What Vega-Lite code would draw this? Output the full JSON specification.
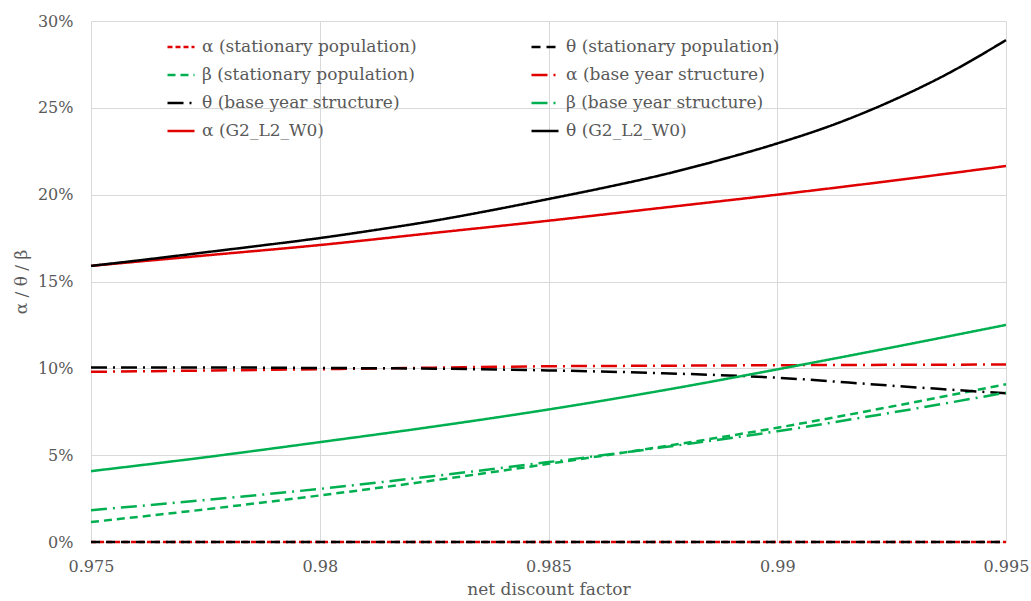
{
  "$schema": "https://vega.github.io/schema/vega-lite/v6.json",
  "width": 915,
  "height": 521,
  "autosize": {"type": "none"},
  "padding": {"left": 91, "top": 21, "right": 25, "bottom": 59},
  "background": "white",
  "config": {
    "view": {"stroke": null},
    "font": "DejaVu Serif",
    "axis": {"labelFont": "DejaVu Serif", "titleFont": "DejaVu Serif", "labelColor": "#595959", "titleColor": "#595959", "labelFontSize": 16, "titleFontSize": 17, "titleFontWeight": "normal", "gridColor": "#d9d9d9", "gridWidth": 1, "domain": false, "ticks": false}
  },
  "data": {"values": [
    {"x": 0.975, "s": "α (stationary population)", "v": 0},
    {"x": 0.995, "s": "α (stationary population)", "v": 0},
    {"x": 0.975, "s": "θ (stationary population)", "v": 0},
    {"x": 0.995, "s": "θ (stationary population)", "v": 0},
    {"x": 0.975, "s": "β (stationary population)", "v": 1.15},
    {"x": 0.9775, "s": "β (stationary population)", "v": 1.88},
    {"x": 0.98, "s": "β (stationary population)", "v": 2.68},
    {"x": 0.9825, "s": "β (stationary population)", "v": 3.55},
    {"x": 0.985, "s": "β (stationary population)", "v": 4.5},
    {"x": 0.9875, "s": "β (stationary population)", "v": 5.5},
    {"x": 0.99, "s": "β (stationary population)", "v": 6.58},
    {"x": 0.9925, "s": "β (stationary population)", "v": 7.8},
    {"x": 0.995, "s": "β (stationary population)", "v": 9.08},
    {"x": 0.975, "s": "α (base year structure)", "v": 9.8},
    {"x": 0.9775, "s": "α (base year structure)", "v": 9.87},
    {"x": 0.98, "s": "α (base year structure)", "v": 9.95},
    {"x": 0.9825, "s": "α (base year structure)", "v": 10.04},
    {"x": 0.985, "s": "α (base year structure)", "v": 10.12},
    {"x": 0.9875, "s": "α (base year structure)", "v": 10.15},
    {"x": 0.99, "s": "α (base year structure)", "v": 10.18},
    {"x": 0.9925, "s": "α (base year structure)", "v": 10.2},
    {"x": 0.995, "s": "α (base year structure)", "v": 10.22},
    {"x": 0.975, "s": "θ (base year structure)", "v": 10.05},
    {"x": 0.9775, "s": "θ (base year structure)", "v": 10.05},
    {"x": 0.98, "s": "θ (base year structure)", "v": 10.02},
    {"x": 0.9825, "s": "θ (base year structure)", "v": 9.98},
    {"x": 0.985, "s": "θ (base year structure)", "v": 9.88},
    {"x": 0.9875, "s": "θ (base year structure)", "v": 9.72},
    {"x": 0.99, "s": "θ (base year structure)", "v": 9.46},
    {"x": 0.9925, "s": "θ (base year structure)", "v": 9.0},
    {"x": 0.995, "s": "θ (base year structure)", "v": 8.56},
    {"x": 0.975, "s": "β (base year structure)", "v": 1.83},
    {"x": 0.9775, "s": "β (base year structure)", "v": 2.42},
    {"x": 0.98, "s": "β (base year structure)", "v": 3.06},
    {"x": 0.9825, "s": "β (base year structure)", "v": 3.8},
    {"x": 0.985, "s": "β (base year structure)", "v": 4.6},
    {"x": 0.9875, "s": "β (base year structure)", "v": 5.45},
    {"x": 0.99, "s": "β (base year structure)", "v": 6.38},
    {"x": 0.9925, "s": "β (base year structure)", "v": 7.45},
    {"x": 0.995, "s": "β (base year structure)", "v": 8.6},
    {"x": 0.975, "s": "β (G2_L2_W0)", "v": 4.08},
    {"x": 0.9775, "s": "β (G2_L2_W0)", "v": 4.88},
    {"x": 0.98, "s": "β (G2_L2_W0)", "v": 5.75},
    {"x": 0.9825, "s": "β (G2_L2_W0)", "v": 6.65},
    {"x": 0.985, "s": "β (G2_L2_W0)", "v": 7.63},
    {"x": 0.9875, "s": "β (G2_L2_W0)", "v": 8.73},
    {"x": 0.99, "s": "β (G2_L2_W0)", "v": 9.94},
    {"x": 0.9925, "s": "β (G2_L2_W0)", "v": 11.2},
    {"x": 0.995, "s": "β (G2_L2_W0)", "v": 12.5},
    {"x": 0.975, "s": "α (G2_L2_W0)", "v": 15.9},
    {"x": 0.9775, "s": "α (G2_L2_W0)", "v": 16.5},
    {"x": 0.98, "s": "α (G2_L2_W0)", "v": 17.1},
    {"x": 0.9825, "s": "α (G2_L2_W0)", "v": 17.8},
    {"x": 0.985, "s": "α (G2_L2_W0)", "v": 18.5},
    {"x": 0.9875, "s": "α (G2_L2_W0)", "v": 19.25},
    {"x": 0.99, "s": "α (G2_L2_W0)", "v": 20.0},
    {"x": 0.9925, "s": "α (G2_L2_W0)", "v": 20.8},
    {"x": 0.995, "s": "α (G2_L2_W0)", "v": 21.65},
    {"x": 0.975, "s": "θ (G2_L2_W0)", "v": 15.9},
    {"x": 0.97625, "s": "θ (G2_L2_W0)", "v": 16.28},
    {"x": 0.9775, "s": "θ (G2_L2_W0)", "v": 16.68},
    {"x": 0.97875, "s": "θ (G2_L2_W0)", "v": 17.08},
    {"x": 0.98, "s": "θ (G2_L2_W0)", "v": 17.5},
    {"x": 0.98125, "s": "θ (G2_L2_W0)", "v": 17.98},
    {"x": 0.9825, "s": "θ (G2_L2_W0)", "v": 18.5},
    {"x": 0.98375, "s": "θ (G2_L2_W0)", "v": 19.1},
    {"x": 0.985, "s": "θ (G2_L2_W0)", "v": 19.75},
    {"x": 0.98625, "s": "θ (G2_L2_W0)", "v": 20.42},
    {"x": 0.9875, "s": "θ (G2_L2_W0)", "v": 21.15},
    {"x": 0.98875, "s": "θ (G2_L2_W0)", "v": 22.0},
    {"x": 0.99, "s": "θ (G2_L2_W0)", "v": 22.95},
    {"x": 0.99125, "s": "θ (G2_L2_W0)", "v": 24.05},
    {"x": 0.9925, "s": "θ (G2_L2_W0)", "v": 25.4},
    {"x": 0.99375, "s": "θ (G2_L2_W0)", "v": 27.0},
    {"x": 0.995, "s": "θ (G2_L2_W0)", "v": 28.9}
  ]},
  "mark": {"type": "line", "interpolate": "monotone"},
  "encoding": {
    "x": {"field": "x", "type": "quantitative", "title": "net discount factor",
      "scale": {"domain": [0.975, 0.995], "nice": false, "zero": false},
      "axis": {"values": [0.975, 0.98, 0.985, 0.99, 0.995], "format": "~g", "labelPadding": 16, "titlePadding": 7, "labelFlush": false}},
    "y": {"field": "v", "type": "quantitative", "title": "α / θ / β",
      "scale": {"domain": [0, 30], "nice": false},
      "axis": {"values": [0, 5, 10, 15, 20, 25, 30], "labelExpr": "datum.value + '%'", "labelPadding": 18, "titlePadding": 7}},
    "color": {"field": "s", "type": "nominal",
      "scale": {
        "domain": ["α (stationary population)", "θ (stationary population)", "β (stationary population)", "α (base year structure)", "θ (base year structure)", "β (base year structure)", "α (G2_L2_W0)", "θ (G2_L2_W0)", "β (G2_L2_W0)"],
        "range": ["#e00000", "#000000", "#00b050", "#e00000", "#000000", "#00b050", "#e00000", "#000000", "#00b050"]},
      "legend": {"orient": "none", "legendX": 75, "legendY": 11, "columns": 2, "direction": "horizontal", "title": null,
        "values": ["α (stationary population)", "θ (stationary population)", "β (stationary population)", "α (base year structure)", "θ (base year structure)", "β (base year structure)", "α (G2_L2_W0)", "θ (G2_L2_W0)"],
        "symbolType": "stroke", "symbolSize": 729, "symbolStrokeWidth": 2.5, "labelFont": "DejaVu Serif", "labelFontSize": 17, "labelColor": "#595959", "labelOffset": 6, "rowPadding": 5, "columnPadding": 109, "labelLimit": 400}},
    "strokeDash": {"field": "s", "type": "nominal",
      "scale": {
        "domain": ["α (stationary population)", "θ (stationary population)", "β (stationary population)", "α (base year structure)", "θ (base year structure)", "β (base year structure)", "α (G2_L2_W0)", "θ (G2_L2_W0)", "β (G2_L2_W0)"],
        "range": [[5, 3], [9, 6], [8, 5], [16, 6, 2, 6], [16, 6, 2, 6], [16, 6, 2, 6], [1, 0], [1, 0], [1, 0]]},
      "legend": {"orient": "none", "legendX": 75, "legendY": 11, "columns": 2, "direction": "horizontal", "title": null,
        "values": ["α (stationary population)", "θ (stationary population)", "β (stationary population)", "α (base year structure)", "θ (base year structure)", "β (base year structure)", "α (G2_L2_W0)", "θ (G2_L2_W0)"],
        "symbolType": "stroke", "symbolSize": 729, "symbolStrokeWidth": 2.5, "labelFont": "DejaVu Serif", "labelFontSize": 17, "labelColor": "#595959", "labelOffset": 6, "rowPadding": 5, "columnPadding": 109, "labelLimit": 400}},
    "strokeWidth": {"field": "s", "type": "nominal",
      "scale": {
        "domain": ["α (stationary population)", "θ (stationary population)", "β (stationary population)", "α (base year structure)", "θ (base year structure)", "β (base year structure)", "α (G2_L2_W0)", "θ (G2_L2_W0)", "β (G2_L2_W0)"],
        "range": [2.5, 2.5, 2.5, 2.5, 2.5, 2.5, 1.4, 2.5, 2.2]},
      "legend": null}
  }
}
